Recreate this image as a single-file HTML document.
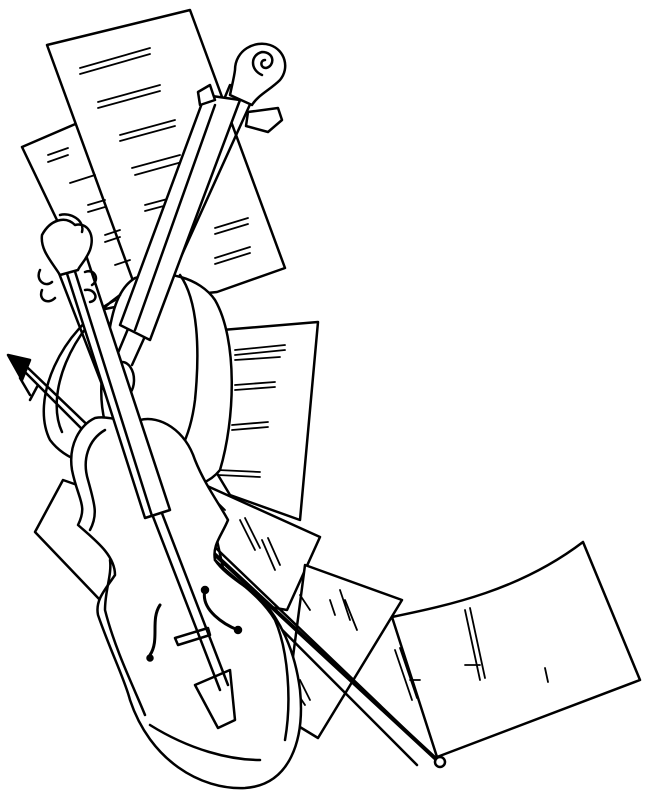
<!DOCTYPE html>
<html><head><meta charset="utf-8"><style>html,body{margin:0;padding:0;background:#fff}svg{display:block}</style></head>
<body>
<svg width="649" height="794" viewBox="0 0 649 794" xmlns="http://www.w3.org/2000/svg" fill="none" stroke="#000" stroke-width="2.5" stroke-linejoin="round" stroke-linecap="round">
<rect width="649" height="794" fill="#fff" stroke="none"/>
<!-- sheets -->
<g fill="#fff">
<polygon points="22,147 80,122 150,300 100,310"/>
<polygon points="47,45 190,10 285,268 217,292 140,300"/>
<polygon points="222,330 318,322 300,520 230,495 215,470"/>
<polygon points="35,532 63,480 120,500 120,580 100,600"/>
<polygon points="205,485 320,537 287,610 230,600"/>
<polygon points="305,565 402,600 318,738 285,718"/>
<path d="M392,617 C450,605 520,590 583,542 L640,680 L437,757 Z"/>
</g>
<!-- music marks -->
<g stroke-width="1.8">
<path d="M80,68 L150,48 M80,74 L150,54 M98,102 L160,85 M98,108 L160,91 M120,135 L175,120 M120,141 L175,126 M132,168 L180,155 M135,175 L182,162 M145,205 L190,193 M145,211 L190,199 M215,228 L248,218 M215,234 L248,224 M215,258 L250,247 M215,264 L250,253"/>
<path d="M48,155 L68,148 M48,162 L68,155 M70,183 L95,175 M88,205 L105,200 M88,212 L105,207 M105,235 L120,230 M105,242 L120,237 M115,265 L130,260"/>
<path d="M235,350 L285,345 M235,355 L285,350 M235,360 L280,357 M235,385 L275,382 M235,390 L275,387 M232,425 L268,422 M232,430 L268,427 M218,470 L260,472 M218,475 L260,477"/>
<path d="M240,520 L255,550 M245,518 L260,548 M262,540 L275,570 M268,538 L280,565 M215,500 L225,510"/>
<path d="M300,595 L310,610 M340,590 L350,620 M345,600 L357,630 M330,600 L335,615 M300,680 L310,700 M295,690 L305,705"/>
<path d="M465,610 L480,680 M470,608 L485,678 M395,650 L412,700 M400,648 L417,698 M545,668 L548,682 M465,665 L480,665 M410,680 L420,680"/>
</g>
<!-- viola body -->
<path fill="#fff" d="M135,278 C165,268 200,278 215,300 C238,340 235,420 220,470 C200,495 160,490 135,470 C105,450 95,400 105,360 C110,320 115,290 135,278 Z"/>
<path d="M180,275 C198,300 200,350 195,400 C190,440 175,465 160,470"/>
<path d="M115,300 C60,330 30,400 50,440 C65,460 95,470 120,465 M120,295 C70,330 45,395 62,432"/>
<ellipse cx="122" cy="380" rx="12" ry="18" fill="#fff"/>
<!-- viola neck & fingerboard -->
<path d="M230,85 L115,360 M252,100 L132,365"/>
<polygon fill="#fff" points="205,95 240,100 150,340 120,325"/>
<path d="M215,105 L135,330"/>
<!-- viola scroll -->
<path fill="#fff" d="M235,70 C235,50 255,40 270,45 C285,50 290,68 280,80 C270,90 258,95 252,105 L230,95 C232,85 234,78 235,70 Z"/>
<path d="M262,75 C250,70 250,55 262,52 C275,52 275,66 266,68 C260,68 260,60 265,60"/>
<path fill="#fff" d="M248,112 L278,108 L282,120 L268,132 L246,126 Z M198,92 L210,85 L215,100 L200,105 Z"/>
<!-- bow -->
<path fill="#000" d="M8,355 L30,360 L22,380 Z"/>
<path d="M15,362 L417,765 M28,368 L437,760 M20,378 L30,395 M38,385 L30,400"/>
<path stroke-width="4" d="M210,550 L437,760"/>
<circle cx="440" cy="762" r="5" fill="#fff"/>
<!-- violin body -->
<path fill="#fff" d="M95,418 C80,425 68,445 72,470 C78,500 88,505 78,525 C95,540 115,555 115,575 C105,590 95,600 98,615 C110,650 125,680 130,700 C150,760 200,790 245,788 C290,785 305,740 300,690 C295,650 280,620 262,600 C245,585 225,575 215,560 C212,545 222,535 228,520 C220,505 205,485 195,460 C185,430 160,415 140,420 C125,424 110,415 95,418 Z"/>
<path d="M105,430 C88,440 82,460 88,480 C95,505 98,515 90,530 M110,560 C112,575 105,590 105,610 C115,650 135,690 145,715 M150,725 C190,750 230,760 260,760 M215,560 C235,580 260,595 275,620 C288,650 292,700 285,740"/>
<!-- f holes -->
<path stroke-width="3" d="M160,605 C150,620 160,640 150,655 M205,590 C200,610 225,625 238,630"/>
<circle cx="150" cy="658" r="2.5" fill="#000"/>
<circle cx="205" cy="590" r="3" fill="#000"/>
<circle cx="238" cy="630" r="3" fill="#000"/>
<!-- bridge -->
<polygon fill="#fff" points="175,638 208,628 210,635 178,645"/>
<!-- tailpiece -->
<polygon fill="#fff" points="195,685 230,670 235,720 218,728"/>
<!-- violin neck & fingerboard -->
<path d="M50,250 L220,690 M60,248 L228,685"/>
<polygon fill="#fff" points="62,258 85,252 170,510 145,518"/>
<path d="M72,262 L152,516"/>
<!-- violin scroll/pegbox -->
<path fill="#fff" d="M42,235 C50,220 65,215 75,225 C88,222 95,235 90,250 C85,262 80,265 78,270 L60,275 C52,262 40,250 42,235 Z"/>
<path d="M60,215 C70,212 85,220 82,232 M40,270 C35,280 45,288 52,282 M42,290 C38,300 48,305 55,298 M85,272 C95,268 100,280 92,285 M85,290 C95,288 100,300 90,302"/>
</svg>
</body></html>
